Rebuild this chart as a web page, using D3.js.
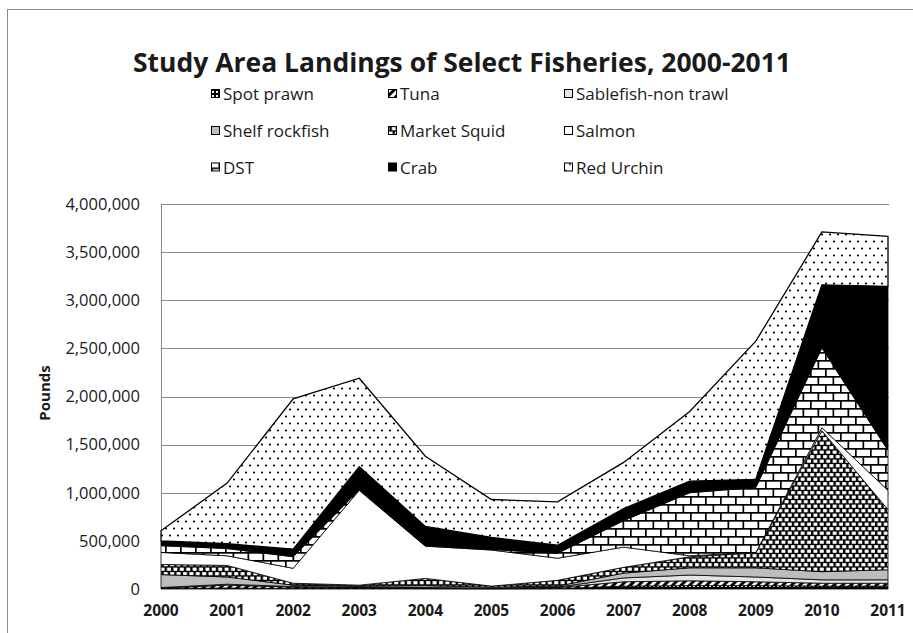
<!DOCTYPE html>
<html>
<head>
<meta charset="utf-8">
<script src="https://cdn.jsdelivr.net/npm/d3@7"></script>
<style>
  body { margin: 0; background: #fff; }
  text { font-family: 'Open Sans', sans-serif; fill: #1a1a1a; }
</style>
</head>
<body>
<div id="chart"></div>
<script>
// years on the category axis
const years = [2000, 2001, 2002, 2003, 2004, 2005, 2006, 2007, 2008, 2009, 2010, 2011];

// pounds landed (stack order: first = bottom)
const spotPrawn     = [5000, 10000, 5000, 5000, 5000, 3000, 5000, 30000, 35000, 35000, 30000, 30000];
const tuna          = [5000, 30000, 15000, 10000, 5000, 3000, 10000, 45000, 50000, 40000, 30000, 30000];
const sablefish     = [5000, 10000, 5000, 5000, 5000, 4000, 5000, 40000, 60000, 50000, 35000, 35000];
const shelfRockfish = [135000, 75000, 15000, 10000, 20000, 10000, 10000, 50000, 75000, 95000, 85000, 105000];
const marketSquid   = [105000, 120000, 20000, 10000, 75000, 10000, 60000, 60000, 115000, 155000, 1465000, 625000];
const salmon        = [125000, 100000, 155000, 985000, 335000, 375000, 230000, 210000, 10000, 5000, 30000, 200000];
const dst           = [70000, 75000, 120000, 5000, 5000, 5000, 50000, 275000, 655000, 675000, 830000, 415000];
const crab          = [50000, 50000, 80000, 240000, 200000, 125000, 85000, 125000, 120000, 85000, 655000, 1705000];
const redUrchin     = [105000, 630000, 1560000, 920000, 730000, 395000, 450000, 480000, 725000, 1435000, 550000, 520000];

const seriesNames = ["Spot prawn", "Tuna", "Sablefish-non trawl", "Shelf rockfish", "Market Squid",
                     "Salmon", "DST", "Crab", "Red Urchin"];
const seriesValues = [spotPrawn, tuna, sablefish, shelfRockfish, marketSquid, salmon, dst, crab, redUrchin];
const yTicks = [0, 500000, 1000000, 1500000, 2000000, 2500000, 3000000, 3500000, 4000000];

const W = 913, H = 633;
const svg = d3.select("#chart").append("svg")
    .attr("width", W)
    .attr("height", H);

// ---- fill patterns ----
const defs = svg.append("defs");

// spot prawn: dark with small white squares
let p = defs.append("pattern").attr("id", "pat0").attr("patternUnits", "userSpaceOnUse")
    .attr("width", 4).attr("height", 4);
p.append("rect").attr("width", 4).attr("height", 4).attr("fill", "#000");
p.append("rect").attr("x", 1).attr("y", 1).attr("width", 2).attr("height", 2).attr("fill", "#fff");

// tuna: wide diagonal stripes
p = defs.append("pattern").attr("id", "pat1").attr("patternUnits", "userSpaceOnUse")
    .attr("width", 6).attr("height", 6).attr("patternTransform", "rotate(45)");
p.append("rect").attr("width", 6).attr("height", 6).attr("fill", "#fff");
p.append("rect").attr("width", 3).attr("height", 6).attr("fill", "#000");

// market squid: black with white little bricks
p = defs.append("pattern").attr("id", "pat4").attr("patternUnits", "userSpaceOnUse")
    .attr("width", 6.4).attr("height", 9);
p.append("rect").attr("width", 6.4).attr("height", 9).attr("fill", "#000");
p.append("rect").attr("x", 0.6).attr("y", 0.6).attr("width", 4).attr("height", 3.2).attr("fill", "#fff");
p.append("rect").attr("x", 3.8).attr("y", 5.1).attr("width", 4).attr("height", 3.2).attr("fill", "#fff");
p.append("rect").attr("x", -2.6).attr("y", 5.1).attr("width", 4).attr("height", 3.2).attr("fill", "#fff");

// DST: horizontal brick
p = defs.append("pattern").attr("id", "pat6").attr("patternUnits", "userSpaceOnUse")
    .attr("width", 15).attr("height", 16);
p.append("rect").attr("width", 15).attr("height", 16).attr("fill", "#fff");
p.append("rect").attr("y", 0).attr("width", 15).attr("height", 1.7).attr("fill", "#000");
p.append("rect").attr("y", 8).attr("width", 15).attr("height", 1.7).attr("fill", "#000");
p.append("rect").attr("x", 0).attr("y", 0).attr("width", 1.7).attr("height", 8).attr("fill", "#000");
p.append("rect").attr("x", 7.5).attr("y", 8).attr("width", 1.7).attr("height", 8).attr("fill", "#000");

// red urchin: sparse dots
p = defs.append("pattern").attr("id", "pat8").attr("patternUnits", "userSpaceOnUse")
    .attr("width", 8).attr("height", 14);
p.append("rect").attr("width", 8).attr("height", 14).attr("fill", "#fff");
p.append("circle").attr("cx", 2).attr("cy", 3.5).attr("r", 1.1).attr("fill", "#000");
p.append("circle").attr("cx", 6).attr("cy", 10.5).attr("r", 1.1).attr("fill", "#000");

const fills = ["url(#pat0)", "url(#pat1)", "#e4e4e4", "#bdbdbd", "url(#pat4)",
               "#fff", "url(#pat6)", "#000", "url(#pat8)"];

// outer frame
svg.append("rect")
    .attr("x", 7.5).attr("y", 9.5)
    .attr("width", 930).attr("height", 640)
    .attr("fill", "none")
    .attr("stroke", "#8c8c8c");

// ---- scales ----
const x = d3.scalePoint().domain(years).range([161, 888]);
const y = d3.scaleLinear().domain([0, 4000000]).range([589, 204]);

// gridlines
svg.append("g")
    .selectAll("line")
    .data(yTicks.slice(1))
    .join("line")
    .attr("x1", 161).attr("x2", 889)
    .attr("y1", d => Math.round(y(d)) + 0.5)
    .attr("y2", d => Math.round(y(d)) + 0.5)
    .attr("stroke", "#8a8a8a");

// y axis line
svg.append("line")
    .attr("x1", 161.5).attr("x2", 161.5)
    .attr("y1", y(4000000)).attr("y2", y(0))
    .attr("stroke", "#8a8a8a");

// ---- stacked areas ----
const table = years.map((yr, i) => {
    const row = { year: yr };
    seriesNames.forEach((n, k) => { row[n] = seriesValues[k][i]; });
    return row;
});

const stacked = d3.stack().keys(seriesNames)(table);

const area = d3.area()
    .x(d => x(d.data.year))
    .y0(d => y(d[0]))
    .y1(d => y(d[1]));

svg.append("g")
    .selectAll("path")
    .data(stacked)
    .join("path")
    .attr("d", area)
    .attr("fill", (d, i) => fills[i])
    .attr("stroke", "#000")
    .attr("stroke-width", (d, i) => i === stacked.length - 1 ? 1.3 : 0.8)
    .attr("stroke-linejoin", "miter");

// ---- axes labels ----
svg.append("g")
    .selectAll("text")
    .data(yTicks)
    .join("text")
    .attr("x", 140)
    .attr("y", d => y(d))
    .attr("dy", "0.35em")
    .attr("text-anchor", "end")
    .style("font-size", "16.5px")
    .text(d => d3.format(",")(d));

svg.append("g")
    .selectAll("text")
    .data(years)
    .join("text")
    .attr("x", d => x(d))
    .attr("y", 616)
    .attr("text-anchor", "middle")
    .style("font-size", "15.5px")
    .style("font-weight", "bold")
    .text(d => d);

svg.append("text")
    .attr("transform", "translate(50,393) rotate(-90)")
    .attr("text-anchor", "middle")
    .style("font-size", "15px")
    .style("font-weight", "bold")
    .text("Pounds");

// title
svg.append("text")
    .attr("x", 462)
    .attr("y", 72)
    .attr("text-anchor", "middle")
    .attr("textLength", 658)
    .attr("lengthAdjust", "spacingAndGlyphs")
    .style("font-size", "27px")
    .style("font-weight", "bold")
    .text("Study Area Landings of Select Fisheries, 2000-2011");

// ---- legend (3 columns x 3 rows, series order) ----
const legCols = [211, 388, 564];
const legRows = [94, 131, 167.5];

const leg = svg.append("g")
    .selectAll("g")
    .data(seriesNames)
    .join("g")
    .attr("transform", (d, i) => `translate(${legCols[i % 3]},${legRows[Math.floor(i / 3)]})`);

leg.append("rect")
    .attr("x", 0.5).attr("y", -4.5)
    .attr("width", 8).attr("height", 8)
    .attr("fill", (d, i) => fills[i])
    .attr("stroke", "#000")
    .attr("stroke-width", 1);

leg.append("text")
    .attr("x", 12)
    .attr("y", 0)
    .attr("dy", "0.36em")
    .style("font-size", "17px")
    .text(d => d);
</script>
</body>
</html>
